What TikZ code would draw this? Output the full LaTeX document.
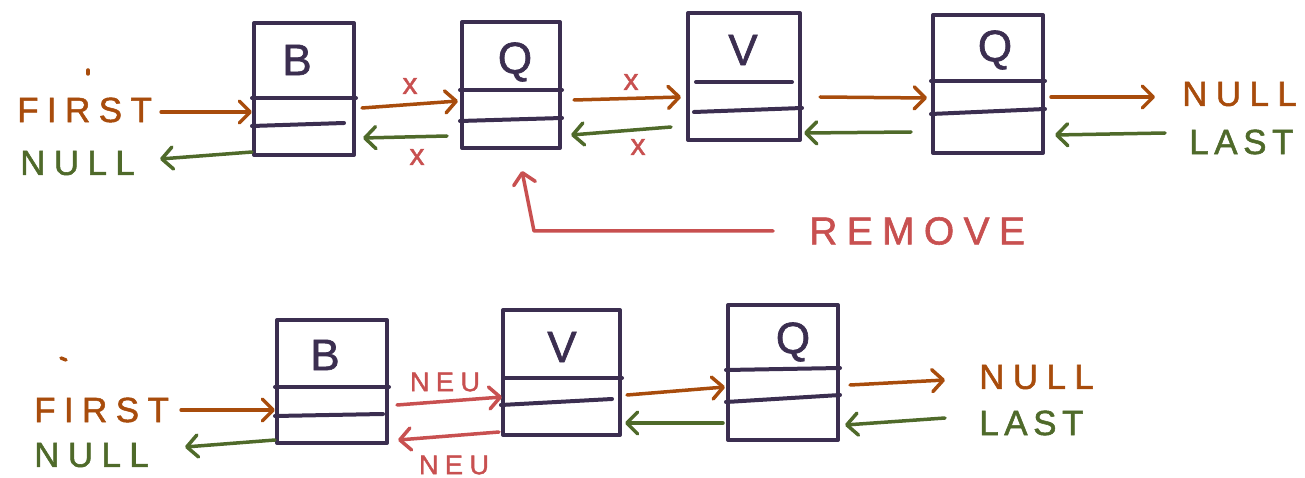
\documentclass[tikz,border=0pt]{standalone}
\usepackage{fontspec}
\setmainfont{Liberation Sans}
\newfontfamily\handA[LetterSpace=24,FakeBold=1.5]{Liberation Sans}
\newfontfamily\handB[LetterSpace=16,FakeBold=1.5]{Liberation Sans}
\newfontfamily\handL[FakeBold=1.5]{Liberation Sans}
\usetikzlibrary{arrows.meta,calc}
\definecolor{ink}{HTML}{3B2E50}
\definecolor{orng}{HTML}{A84C0C}
\definecolor{grn}{HTML}{4F6A2A}
\definecolor{rd}{HTML}{C85050}
\begin{document}
\begin{tikzpicture}[x=1pt,y=-1pt,
  box/.style={draw=ink, line width=4pt, line join=round, inner sep=0pt},
  divline/.style={draw=ink, line width=4pt, line cap=round},
  tip/.style={-{Straight Barb[length=11pt,width=22pt,round]}},
  oarr/.style={draw=orng, line width=3.5pt, line cap=round, line join=round, tip},
  garr/.style={draw=grn, line width=3.5pt, line cap=round, line join=round, tip},
  rarr/.style={draw=rd, line width=3.5pt, line cap=round, line join=round, tip},
  ltr/.style={text=ink, inner sep=0pt, font=\handL\fontsize{44}{44}\selectfont},
  lab/.style={anchor=west, inner sep=0pt},
  olab/.style={lab, text=orng},
  glab/.style={lab, text=grn},
  big/.style={font=\handA\fontsize{35}{35}\selectfont},
  bigB/.style={font=\handB\fontsize{35}{35}\selectfont},
  xmark/.style={text=rd, inner sep=0pt, font=\handL\fontsize{30}{30}\selectfont},
  neu/.style={text=rd, inner sep=0pt, font=\handA\fontsize{27}{27}\selectfont},
  speck/.style={draw=orng, line width=3.5pt, line cap=round}
]
\useasboundingbox (0,0) rectangle (1305,478);

% ---------------- top row: boxes ----------------
\node[box, minimum width=100pt, minimum height=132pt] (b1) at (304,89) {};
\node[box, minimum width=98pt, minimum height=126pt] (q1) at (511,85) {};
\node[box, minimum width=112pt, minimum height=127pt] (v1) at (744,76.5) {};
\node[box, minimum width=110pt, minimum height=138pt] (q2) at (988,84) {};
\draw[divline] (b1.west |- 0,98) -- (b1.east |- 0,98);
\draw[divline] (b1.west |- 0,126) -- ($(b1.east |- 0,123)+(-12,0)$);
\draw[divline] (q1.west |- 0,90) -- (q1.east |- 0,90);
\draw[divline] (q1.west |- 0,121) -- (q1.east |- 0,118);
\draw[divline] ($(v1.west |- 0,82)+(10,0)$) -- ($(v1.east |- 0,82)+(-10,0)$);
\draw[divline] ($(v1.west |- 0,112)+(8,0)$) -- (v1.east |- 0,108);
\draw[divline] (q2.west |- 0,81) -- (q2.east |- 0,81);
\draw[divline] (q2.west |- 0,114) -- (q2.east |- 0,109);
\node[ltr] (b1l) at (297,60) {B};
\node[ltr] (q1l) at (515,62) {Q};
\node[ltr] (v1l) at (743,50) {V};
\node[ltr] (q2l) at (995,50) {Q};

% top row: labels
\node[olab, big] (first1) at (17,110) {FIRST};
\node[glab, big] (null1) at (20,163) {NULL};
\node[olab, big] (null2) at (1182,94) {NULL};
\node[glab, bigB] (last1) at (1189,142) {LAST};
\node[lab, text=rd, font=\handA\fontsize{39}{39}\selectfont] (rm) at (809,231) {REMOVE};
\draw[speck] (88,70) -- (88,74);

% top row: connectors
\coordinate (n1tip) at (160,159);
\coordinate (n2tip) at (1155,97);
\coordinate (l1start) at (1165,133);
\coordinate (rmbend) at (534,231);
\draw[oarr] ($(first1.east |- 0,112)+(9,0)$) -- (b1.west |- 0,112);
\draw[garr] (b1.west |- 0,152) -- (n1tip);
\draw[oarr] ($(b1.east |- 0,108)+(6,0)$) -- ($(q1.west |- 0,101)+(-2,0)$);
\draw[garr] ($(q1.west |- 0,136)+(-13,0)$) -- ($(b1.east |- 0,138)+(7,0)$);
\node[xmark] (x1) at (410,86) {x};
\node[xmark] (x2) at (417,157) {x};
\draw[oarr] ($(q1.east |- 0,100)+(12,0)$) -- ($(v1.west |- 0,97)+(-5,0)$);
\draw[garr] ($(v1.west |- 0,127)+(-15,0)$) -- ($(q1.east |- 0,135)+(9,0)$);
\node[xmark] (x3) at (631,82) {x};
\node[xmark] (x4) at (638,147) {x};
\draw[oarr] ($(v1.east |- 0,97)+(18,0)$) -- ($(q2.west |- 0,98)+(-4,0)$);
\draw[garr] ($(q2.west |- 0,132)+(-20,0)$) -- ($(v1.east |- 0,133)+(2,0)$);
\draw[oarr] ($(q2.east |- 0,97)+(6,0)$) -- (n2tip);
\draw[garr] (l1start) -- ($(q2.east |- 0,135)+(10,0)$);
\draw[rarr] ($(rm.west)+(-36,0)$) -- (rmbend) -- ($(q1.south)+(11,21)$);

% ---------------- bottom row: boxes ----------------
\node[box, minimum width=110pt, minimum height=123pt] (b2) at (332,381.5) {};
\node[box, minimum width=117pt, minimum height=125pt] (v2) at (561.5,372.5) {};
\node[box, minimum width=110pt, minimum height=135pt] (q3) at (783,372.5) {};
\draw[divline] (b2.west |- 0,387) -- (b2.east |- 0,387);
\draw[divline] (b2.west |- 0,416) -- ($(b2.east |- 0,414)+(-6,0)$);
\draw[divline] ($(v2.west |- 0,378)+(4,0)$) -- (v2.east |- 0,378);
\draw[divline] (v2.west |- 0,405) -- ($(v2.east |- 0,399)+(-10,0)$);
\draw[divline] (q3.west |- 0,370) -- (q3.east |- 0,368);
\draw[divline] (q3.west |- 0,402) -- (q3.east |- 0,395);
\node[ltr] (b2l) at (325,355) {B};
\node[ltr] (v2l) at (562,347) {V};
\node[ltr] (q3l) at (793,342) {Q};

% bottom row: labels
\node[olab, big] (first2) at (34,410) {FIRST};
\node[glab, big] (null3) at (34,455) {NULL};
\node[olab, big] (null4) at (979,377) {NULL};
\node[glab, bigB] (last2) at (979,423) {LAST};
\node[neu] (neu1) at (445,382) {NEU};
\node[neu] (neu2) at (454,465) {NEU};
\draw[speck] (61,358) -- (66,360);

% bottom row: connectors
\coordinate (n3tip) at (185,447);
\coordinate (n4tip) at (945,380);
\coordinate (l2start) at (945,418);
\draw[oarr] ($(first2.east |- 0,410)+(12,0)$) -- (b2.west |- 0,410);
\draw[garr] (b2.west |- 0,440) -- (n3tip);
\draw[rarr] ($(b2.east |- 0,405)+(8,0)$) -- ($(v2.west |- 0,397)+(1,0)$);
\draw[rarr] ($(v2.west |- 0,432)+(-2,0)$) -- ($(b2.east |- 0,440)+(9,0)$);
\draw[oarr] ($(v2.east |- 0,395)+(5,0)$) -- ($(q3.west |- 0,387)+(-1,0)$);
\draw[garr] ($(q3.west |- 0,423)+(-3,0)$) -- ($(v2.east |- 0,423)+(3,0)$);
\draw[oarr] ($(q3.east |- 0,385)+(10,0)$) -- (n4tip);
\draw[garr] (l2start) -- ($(q3.east |- 0,425)+(5,0)$);
\end{tikzpicture}
\end{document}
